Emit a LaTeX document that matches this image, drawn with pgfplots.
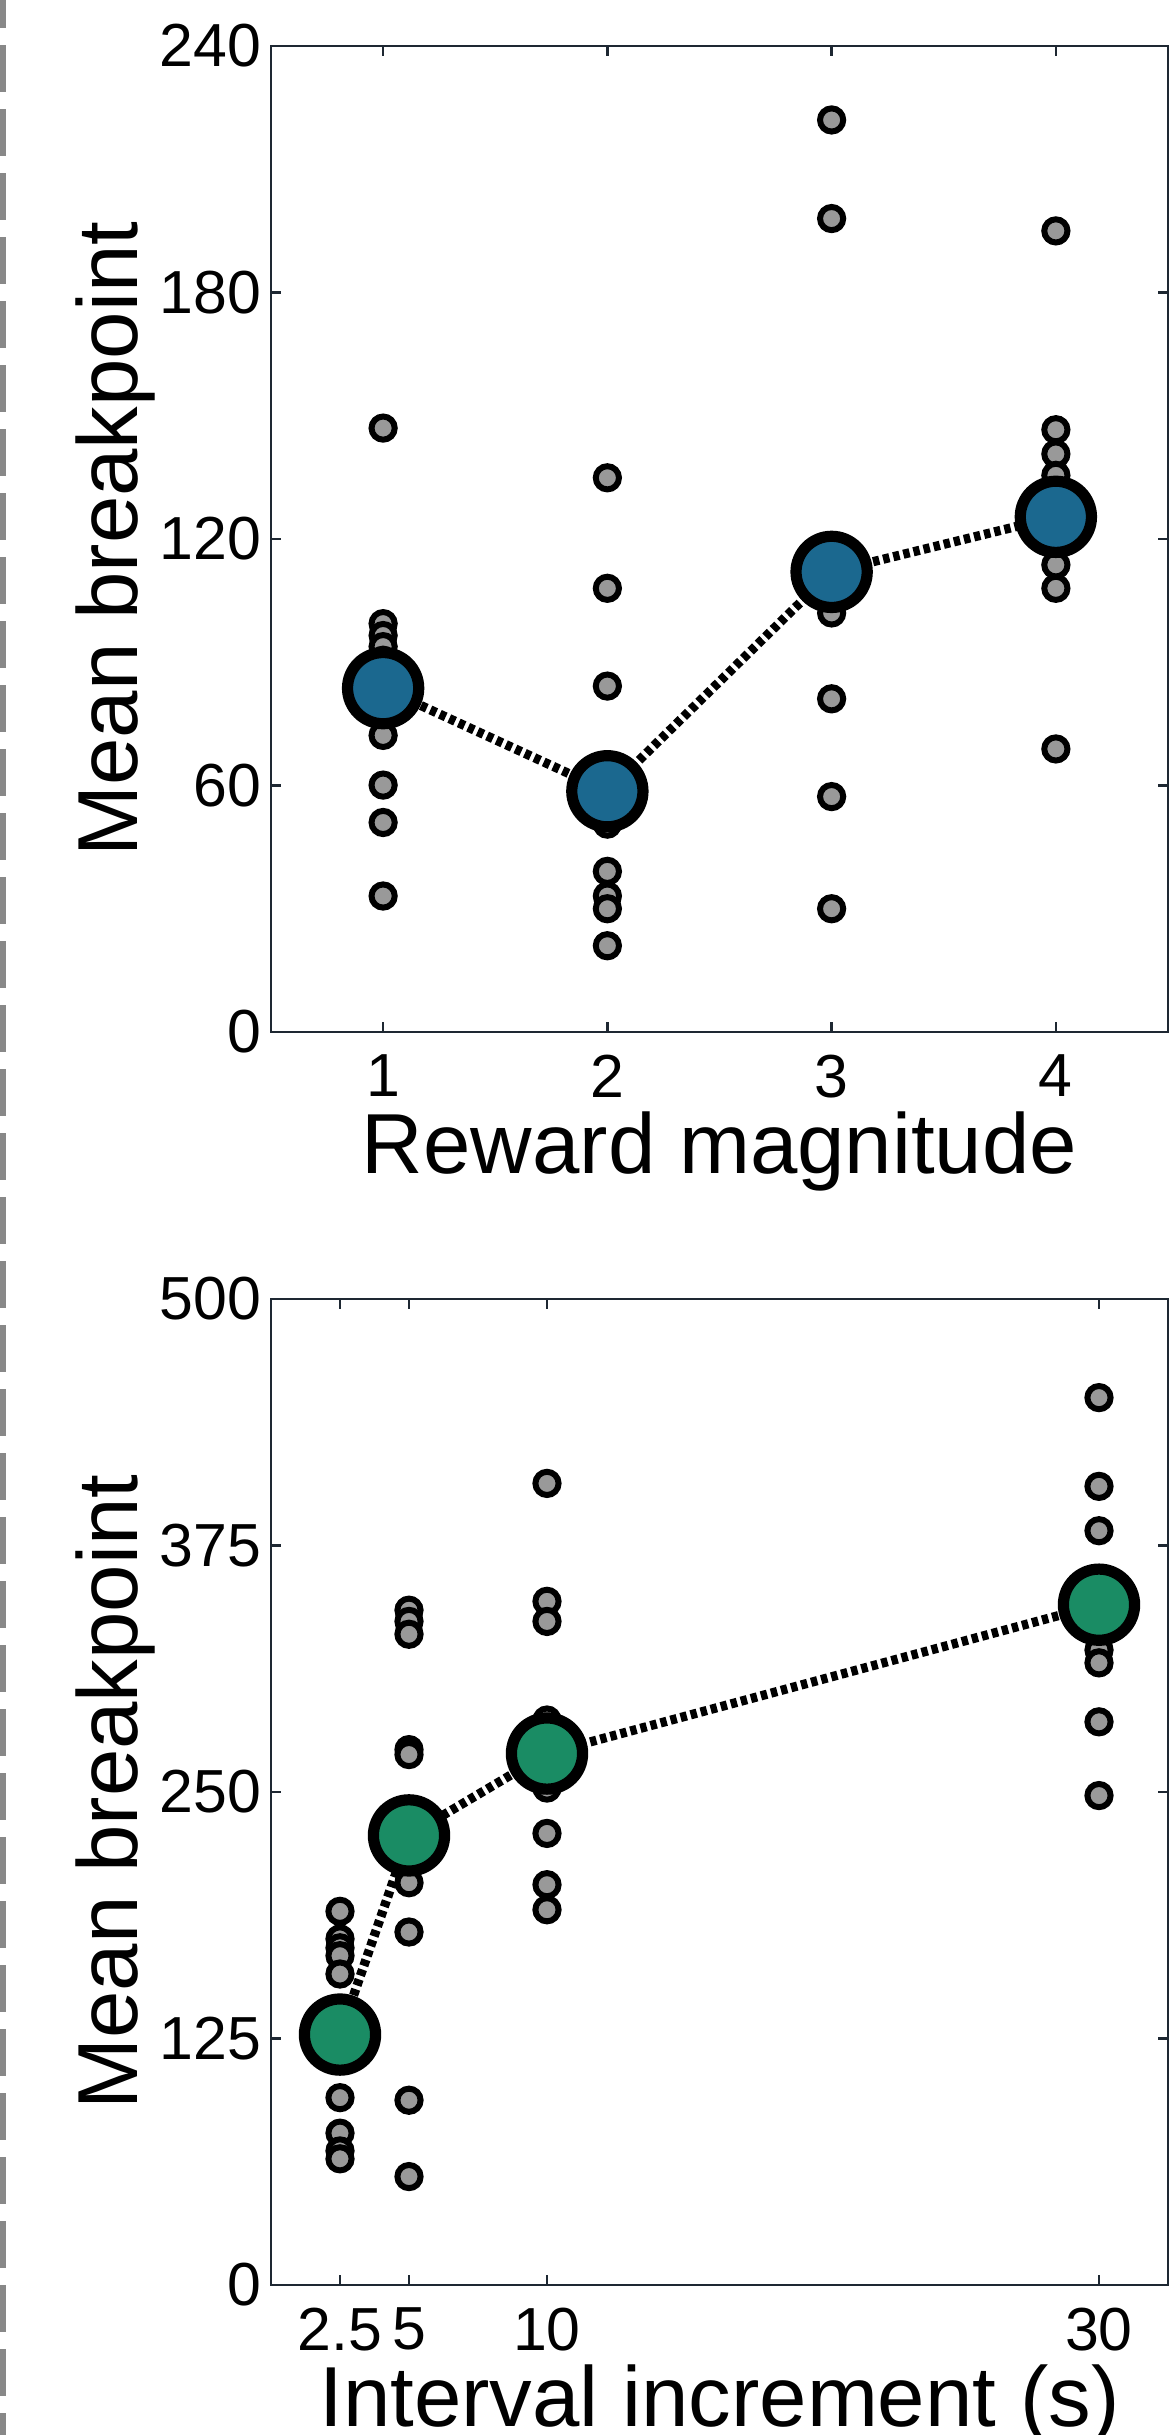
\documentclass[border=0pt]{standalone}
\usepackage{fontspec}
\setmainfont{Liberation Sans}
\usepackage{pgfplots}
\pgfplotsset{compat=1.18}
\definecolor{bluem}{RGB}{27,104,143}
\definecolor{greenm}{RGB}{26,140,100}
\definecolor{ptgray}{RGB}{153,153,153}
\definecolor{axcol}{RGB}{30,40,50}
\definecolor{dashgray}{RGB}{136,136,136}
\pgfplotsset{
  myax/.style={
    scale only axis, width=224.25pt, height=246.5pt,
    axis line style={axcol, line width=0.6pt},
    tick style={axcol, line width=0.6pt},
    major tick length=2.5pt,
    tick align=inside,
    /pgf/number format/assume math mode=true,
    tick label style={font=\fontsize{15.2}{17}\selectfont},
    xticklabel style={inner sep=0pt, yshift=-5.5pt},
    yticklabel style={inner sep=0pt, xshift=-2.25pt},
    label style={font=\fontsize{21.3}{25}\selectfont},
    xlabel style={at={(axis description cs:0.5,-0.143)}, anchor=base},
    ylabel style={at={(axis description cs:-0.1483,0.5)}, anchor=base},
    ylabel={Mean breakpoint},
  },
  pts/.style={only marks, mark=*, mark size=2.9pt,
    mark options={fill=ptgray, draw=black, line width=1.5pt}},
  mline/.style={black, line width=2.3pt, dash pattern=on 1.6pt off 1pt, mark=none},
  big/.style={only marks, mark=*, mark size=8.9pt,
    mark options={fill=#1, draw=black, line width=2.8pt}},
}
\begin{document}
\begin{tikzpicture}
\useasboundingbox (0,0) rectangle (292.5pt,-608.75pt);
\draw[dashgray, line width=1.6pt, dash pattern=on 11.75pt off 4.25pt, dash phase=4.75pt] (0.8pt,0) -- (0.8pt,-608.75pt);

\begin{axis}[myax, at={(67.75pt,-11.5pt)}, anchor=north west,
  xmin=0.5, xmax=4.5, ymin=0, ymax=240,
  xtick={1,2,3,4}, ytick={0,60,120,180,240},
  xlabel={Reward magnitude}]
\addplot[pts] coordinates {
 (1,147.0) (1,99.4) (1,96.5) (1,93.8) (1,90.5) (1,72.2) (1,60.1) (1,51.0) (1,33.1)
 (2,134.9) (2,108.0) (2,84.2) (2,52.0) (2,50.6) (2,39.1) (2,33.1) (2,30.0) (2,21.0)
 (3,222.0) (3,198.0) (3,102.0) (3,81.1) (3,57.3) (3,30.0)
 (4,195.0) (4,146.6) (4,140.7) (4,135.5) (4,131.0) (4,113.7) (4,108.0) (4,68.9)
};
\addplot[mline] coordinates {(1,83.7) (2,58.6) (3,112.0) (4,125.4)};
\addplot[big=bluem] coordinates {(1,83.7) (2,58.6) (3,112.0) (4,125.4)};
\end{axis}

\begin{axis}[myax, at={(67.75pt,-324.75pt)}, anchor=north west,
  xmin=0, xmax=32.5, ymin=0, ymax=500,
  xtick={2.5,5,10,30}, xticklabels={2.5,5,10,30}, ytick={0,125,250,375,500},
  xlabel={Interval increment (s)}]
\addplot[pts] coordinates {
 (2.5,189.5) (2.5,175.5) (2.5,171.0) (2.5,167.0) (2.5,157.7) (2.5,95.0) (2.5,77.0) (2.5,68.0) (2.5,64.0)
 (5,342.2) (5,336.5) (5,330.0) (5,271.5) (5,269.0) (5,204.0) (5,179.0) (5,93.7) (5,55.0)
 (10,406.5) (10,346.7) (10,336.5) (10,286.5) (10,252.0) (10,229.0) (10,203.0) (10,190.3)
 (30,450.0) (30,405.0) (30,382.5) (30,322.0) (30,315.5) (30,285.6) (30,248.2)
};
\addplot[mline] coordinates {(2.5,127.0) (5,228.0) (10,269.5) (30,345.0)};
\addplot[big=greenm] coordinates {(2.5,127.0) (5,228.0) (10,269.5) (30,345.0)};
\end{axis}
\end{tikzpicture}
\end{document}
